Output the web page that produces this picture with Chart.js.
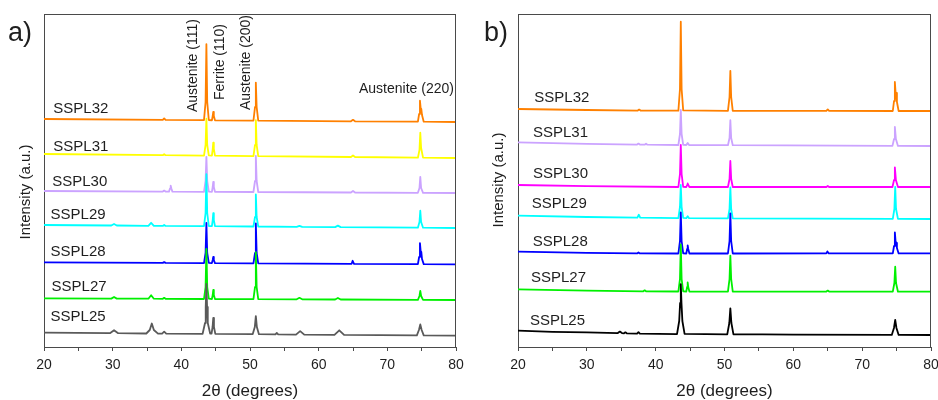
<!DOCTYPE html>
<html><head><meta charset="utf-8">
<script src="https://cdn.jsdelivr.net/npm/chart.js@4.4.1/dist/chart.umd.min.js"></script>
<style>
html,body{margin:0;padding:0;background:#fff;}
#wrap{position:relative;width:938px;height:400px;overflow:hidden;}
.panel{position:absolute;top:0;width:469px;height:400px;}
canvas{display:block;}
</style></head><body>
<div id="wrap">
<div class="panel" style="left:0"><canvas id="ca" width="469" height="400"></canvas></div>
<div class="panel" style="left:469px"><canvas id="cb" width="469" height="400"></canvas></div>
</div>
<script>
// ---------------- DATA ----------------
const seriesNames = ['SSPL25','SSPL27','SSPL28','SSPL29','SSPL30','SSPL31','SSPL32'];
const xTickValues = [20,30,40,50,60,70,80];
const xTitle = '2\u03B8 (degrees)';
const yTitle = 'Intensity (a.u.)';
const peakLabels = ['Austenite (111)','Ferrite (110)','Austenite (200)','Austenite (220)'];
const panelTags = ['a)','b)'];

// Panel a) — [2θ, stacked intensity (a.u.)]
const a_SSPL25 = [[20,14.3],[29.6,13.8],[30.2,16.8],[30.8,13.8],[34.9,13.5],[35.4,17],[35.7,23.5],[36.0,17],[36.6,13.4],
 [37.2,13.4],[37.5,15.3],[37.8,13.4],[43.1,13.2],[43.45,24],[43.55,40],[43.65,63],[43.75,40],[43.85,24],[44.2,13.5],
 [44.4,13.3],[44.55,20],[44.65,29],[44.75,20],[44.95,13.1],[50.4,12.9],[50.7,20],[50.85,30.8],[51.0,20],[51.3,12.8],
 [53.7,12.6],[53.9,14],[54.1,12.6],[56.7,12.4],[57.3,15.9],[57.9,12.4],[62.3,12.2],[63.0,16.7],[63.7,12.1],
 [74.3,11.6],[74.6,17],[74.8,22.6],[75.0,17],[75.3,11.6],[80,11.3]];
const a_SSPL27 = [[20,48.7],[29.8,48.4],[30.2,50],[30.6,48.4],[35.2,48.3],[35.6,51.8],[36.0,48.3],
 [37.3,48.2],[37.5,49.2],[37.7,48.2],[43.3,48],[43.53,60],[43.65,98],[43.77,60],[44.0,48.3],
 [44.45,48],[44.57,52],[44.65,57],[44.73,52],[44.9,48],[50.5,47.8],[50.73,60],[50.85,94.8],[50.97,60],[51.2,47.8],
 [56.8,47.7],[57.2,49.2],[57.6,47.7],[62.4,47.5],[62.8,49],[63.2,47.5],
 [74.45,47.2],[74.68,51],[74.8,56.2],[74.92,51],[75.2,47.2],[80,47]];
const a_SSPL28 = [[20,84.7],[37.3,84.1],[37.5,84.9],[37.7,84.1],
 [43.3,83.9],[43.53,94],[43.65,124],[43.77,94],[44.0,84.1],
 [44.45,83.9],[44.57,87],[44.65,90],[44.73,87],[44.9,83.9],
 [50.5,83.7],[50.73,94],[50.85,123.7],[50.97,94],[51.2,83.7],
 [64.8,83.2],[64.95,86.2],[65.15,83.2],
 [74.45,82.9],[74.63,90],[74.75,103.9],[74.85,96],[74.95,95],[75.05,88],[75.3,82.9],[80,82.7]];
const a_SSPL29 = [[20,122],[29.8,121.5],[30.2,123],[30.6,121.5],[35.2,121.2],[35.6,124.2],[36.0,121.2],
 [37.3,121.1],[37.5,122.1],[37.7,121.1],[43.3,120.8],[43.53,134],[43.65,172.8],[43.77,134],[44.0,121],
 [44.45,120.8],[44.57,127],[44.65,133.8],[44.73,127],[44.9,120.8],
 [50.5,120.5],[50.73,130],[50.85,152.5],[50.97,130],[51.2,120.5],
 [56.8,120.1],[57.2,121.1],[57.6,120.1],[62.4,119.9],[62.8,121.4],[63.2,119.9],
 [74.45,119.3],[74.68,125],[74.8,136.3],[74.92,125],[75.2,119.3],[80,119]];
const a_SSPL30 = [[20,156],[37.3,155.4],[37.5,156.4],[37.7,155.4],
 [38.2,155.4],[38.35,158.5],[38.45,161.4],[38.55,158.5],[38.7,155.4],
 [43.3,155.2],[43.53,166],[43.65,190.2],[43.77,166],[44.0,155.4],
 [44.45,155.2],[44.57,160],[44.65,165.2],[44.73,160],[44.9,155.2],
 [50.5,155],[50.73,166],[50.85,191],[50.97,166],[51.2,155],
 [64.7,154.5],[65.0,156],[65.3,154.5],
 [74.45,154.2],[74.68,159],[74.8,170.2],[74.92,159],[75.2,154.2],[80,154]];
const a_SSPL31 = [[20,193],[37.3,191.8],[37.5,192.8],[37.7,191.8],
 [43.3,191.4],[43.53,202],[43.65,228.4],[43.77,202],[44.0,191.6],
 [44.45,191.3],[44.57,198],[44.65,204.3],[44.73,198],[44.9,191.3],
 [50.5,190.9],[50.73,202],[50.85,226.9],[50.97,202],[51.2,190.9],
 [64.7,190],[65.0,191.5],[65.3,190],
 [74.45,189.3],[74.68,197],[74.8,214.3],[74.92,199],[75.2,189.3],[80,189]];
const a_SSPL32 = [[20,228],[37.3,227.1],[37.5,228.6],[37.7,227.1],
 [43.3,226.8],[43.53,245],[43.65,302.8],[43.77,245],[44.0,227],
 [44.45,226.7],[44.57,231],[44.65,235.2],[44.73,231],[44.9,226.7],
 [50.5,226.4],[50.73,240],[50.85,264.4],[50.97,240],[51.2,226.4],
 [64.7,225.7],[65.0,227.2],[65.3,225.7],
 [74.45,225.3],[74.63,233],[74.75,246.3],[74.85,239],[74.95,238],[75.05,232],[75.3,225.3],[80,225]];

// Panel b)
const b_SSPL25 = [[20,16.3],[25,15.2],[30,14.6],[34.5,13.9],[34.8,15.4],[35.1,13.9],
 [35.4,13.7],[35.6,14.7],[35.8,13.7],[37.3,13.4],[37.5,14.9],[37.7,13.4],
 [43.1,12.9],[43.42,26],[43.55,44],[43.65,62.9],[43.75,44],[43.88,26],[44.2,13.1],
 [50.4,12.7],[50.7,24],[50.85,38.7],[51.0,24],[51.3,12.7],
 [55.5,12.6],[60,12.3],[74.3,12.1],[74.62,19],[74.8,27.1],[74.98,19],[75.3,12.1],[80,12]];
const b_SSPL27 = [[20,57.7],[30,56.4],[38.2,55.7],[38.4,56.7],[38.6,55.7],
 [43.3,55.5],[43.53,68],[43.65,102.5],[43.77,68],[44.0,55.7],
 [44.45,55.5],[44.57,60],[44.65,64.5],[44.73,60],[44.9,55.5],
 [50.5,55.4],[50.73,68],[50.85,91.4],[50.97,68],[51.2,55.4],
 [64.8,55.4],[65.0,56.4],[65.2,55.4],
 [74.45,55.3],[74.68,64],[74.8,80.3],[74.92,64],[75.2,55.3],[80,55.3]];
const b_SSPL28 = [[20,95.3],[30,94.2],[37.3,93.6],[37.5,94.6],[37.7,93.6],
 [43.3,93.5],[43.53,106],[43.65,134.5],[43.77,106],[44.0,93.7],
 [44.45,93.5],[44.57,98],[44.65,101.5],[44.73,98],[44.9,93.5],
 [50.5,93.5],[50.73,106],[50.85,133.5],[50.97,106],[51.2,93.5],
 [64.8,93.6],[64.95,95.6],[65.15,93.6],
 [74.45,93.6],[74.63,101],[74.75,114.6],[74.85,106],[74.95,104.2],[75.05,99],[75.3,93.6],[80,93.7]];
const b_SSPL29 = [[20,131.3],[30,130],[37.35,129.3],[37.55,132.3],[37.75,129.3],
 [43.3,128.9],[43.53,140],[43.65,162],[43.77,140],[44.0,129.1],
 [44.45,128.8],[44.65,130.8],[44.85,128.8],
 [50.5,128.7],[50.73,138],[50.85,159.7],[50.97,138],[51.2,128.7],
 [74.45,128.1],[74.68,138],[74.8,160.1],[74.92,138],[75.2,128.1],[80,128]];
const b_SSPL30 = [[20,162],[30,160.9],[43.3,160],[43.53,173],[43.65,202],[43.77,173],[44.0,160.2],
 [44.45,160],[44.57,162],[44.65,163.5],[44.73,162],[44.9,160],
 [50.5,160],[50.73,168],[50.85,186],[50.97,168],[51.2,160],
 [64.8,160],[65.0,161],[65.2,160],
 [74.4,160],[74.63,167],[74.75,179.7],[74.9,167],[75.2,160],[80,160]];
const b_SSPL31 = [[20,204.7],[30,203.2],[37.3,202.4],[37.5,203.4],[37.7,202.4],
 [38.4,202.3],[38.6,203.3],[38.8,202.3],
 [43.3,202],[43.53,213],[43.65,237],[43.77,213],[44.0,202.2],
 [44.45,202],[44.65,204],[44.85,202],
 [50.5,201.8],[50.73,209],[50.85,226.8],[50.97,209],[51.2,201.8],
 [74.4,201.1],[74.63,208],[74.75,220.1],[74.9,208],[75.2,201.1],[80,201]];
const b_SSPL32 = [[20,238],[30,237],[37.4,236.4],[37.6,237.4],[37.8,236.4],
 [43.3,236.3],[43.53,258],[43.65,325.3],[43.77,258],[44.0,236.6],
 [50.5,236.2],[50.73,250],[50.85,276.2],[50.97,250],[51.2,236.2],
 [64.8,236.1],[65.0,237.6],[65.2,236.1],
 [74.45,236],[74.63,246],[74.75,265],[74.85,255],[74.95,254],[75.05,245],[75.3,236],[80,236]];

// ---------------- LAYOUT / STYLE ----------------
const FONT = '"Liberation Sans", Arial, Helvetica, sans-serif';
const FRAME = '#4a4a4a';
const TXT = '#1e1e1e';
const colorsA = ['#5a5a5a','#00f000','#0000ff','#00ffff','#cba3ff','#ffff00','#ff8000'];
const colorsB = ['#000000','#00f000','#0000ff','#00ffff','#ff00ff','#cba3ff','#ff8000'];
// label anchors in data coordinates (left edge, vertical middle)
const nameAnchorsA = [[20.95,29.7],[21.1,60.3],[20.95,95.3],[20.95,132],[21.2,165.3],[21.35,200.3],[21.35,237.7]];
const nameAnchorsB = [[21.74,26.3],[21.89,68.7],[22.14,104.7],[21.99,142.7],[22.18,172.7],[22.18,213.7],[22.37,248.7]];
const peakAnchorsA = [[41.7,235,true],[45.63,247,true],[49.42,237,true],[65.87,257.7,false]];

function decorPlugin(cfg){
  return {
    id:'decor',
    afterDraw(chart){
      const {ctx, chartArea:ca, scales:{x,y}} = chart;
      ctx.save();
      ctx.strokeStyle = FRAME; ctx.lineWidth = 1;
      ctx.beginPath();
      ctx.moveTo(ca.left, Math.round(ca.top)+0.5); ctx.lineTo(ca.right, Math.round(ca.top)+0.5);
      ctx.moveTo(Math.round(ca.right)-0.5, ca.top); ctx.lineTo(Math.round(ca.right)-0.5, ca.bottom);
      ctx.stroke();
      ctx.fillStyle = TXT;
      ctx.font = '15px ' + FONT; ctx.textAlign='left'; ctx.textBaseline='middle';
      seriesNames.forEach((n,i)=>{
        const a = cfg.names[i];
        ctx.fillText(n, x.getPixelForValue(a[0]), y.getPixelForValue(a[1]));
      });
      if (cfg.peaks){
        ctx.font = '14px ' + FONT;
        cfg.peaks.forEach((p,i)=>{
          const px = x.getPixelForValue(p[0]), py = y.getPixelForValue(p[1]);
          ctx.save(); ctx.translate(px,py);
          if (p[2]) ctx.rotate(-Math.PI/2);
          ctx.textAlign='left'; ctx.textBaseline='middle';
          ctx.fillText(peakLabels[i],0,0);
          ctx.restore();
        });
      }
      ctx.save();
      ctx.font = '15px ' + FONT;
      ctx.translate(cfg.yTitlePos[0], cfg.yTitlePos[1]);
      ctx.rotate(-Math.PI/2);
      ctx.textAlign='center'; ctx.textBaseline='middle';
      ctx.fillText(yTitle,0,0);
      ctx.restore();
      ctx.font = '27px ' + FONT; ctx.textAlign='left'; ctx.textBaseline='alphabetic';
      ctx.fillText(cfg.tag, cfg.tagPos[0], cfg.tagPos[1]);
      ctx.restore();
    }
  };
}

function makeChart(id, series, colors, cfg){
  new Chart(document.getElementById(id), {
    type:'line',
    data:{
      datasets: seriesNames.map((n,i)=>({
        label:n, data:series[i], borderColor:colors[i], backgroundColor:colors[i],
        borderWidth:1.8, pointRadius:0, fill:false, tension:0, borderJoinStyle:'round'
      }))
    },
    options:{
      responsive:false, animation:false, devicePixelRatio:1, events:[],
      layout:{padding:{left:0,right:cfg.padRight,top:14,bottom:0}},
      plugins:{legend:{display:false}, tooltip:{enabled:false}, title:{display:false}},
      scales:{
        x:{type:'linear', min:20, max:80,
          afterFit(s){ s.height = 53; s.paddingLeft = 0; s.paddingRight = 0; },
          afterBuildTicks(s){ s.ticks = []; for(let v=20; v<=80; v+=5) s.ticks.push({value:v}); },
          ticks:{autoSkip:false, maxRotation:0, padding:6, color:TXT, font:{size:14,family:FONT},
            callback:(v)=> xTickValues.includes(v) ? String(v) : ''},
          grid:{display:true, drawOnChartArea:false, drawTicks:true, tickLength:4, color:FRAME, lineWidth:1},
          border:{display:true, color:FRAME, width:1},
          title:{display:true, text:xTitle, color:TXT, font:{size:17,family:FONT,lineHeight:1}, padding:{top:0,bottom:0}}
        },
        y:{type:'linear', min:0, max:333,
          afterFit(s){ s.width = cfg.yWidth; s.paddingTop = 0; s.paddingBottom = 0; },
          ticks:{display:false}, grid:{display:false},
          border:{display:true, color:FRAME, width:1}
        }
      }
    },
    plugins:[decorPlugin(cfg)]
  });
}

makeChart('ca', [a_SSPL25,a_SSPL27,a_SSPL28,a_SSPL29,a_SSPL30,a_SSPL31,a_SSPL32], colorsA,
  {padRight:13, yWidth:44, names:nameAnchorsA, peaks:peakAnchorsA, yTitlePos:[26,192], tag:panelTags[0], tagPos:[8,41]});
makeChart('cb', [b_SSPL25,b_SSPL27,b_SSPL28,b_SSPL29,b_SSPL30,b_SSPL31,b_SSPL32], colorsB,
  {padRight:7, yWidth:49, names:nameAnchorsB, peaks:null, yTitlePos:[30,180], tag:panelTags[1], tagPos:[15,41]});
</script>
</body></html>
